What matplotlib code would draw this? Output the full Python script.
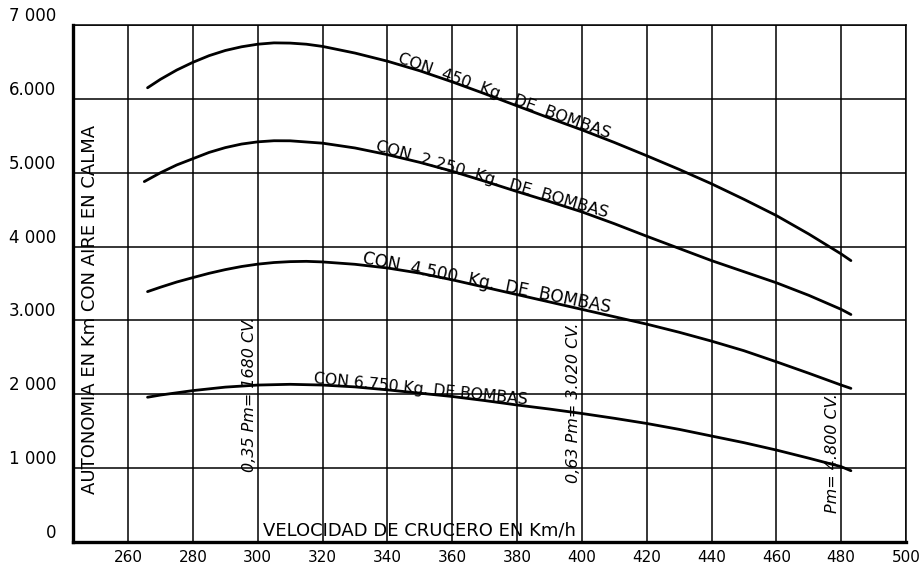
import matplotlib
matplotlib.use("Agg")
import numpy as np
import matplotlib.pyplot as plt
from matplotlib import font_manager, transforms

# ---------------- data ----------------
speed_450 = [266, 270, 275, 280, 285, 290, 295, 300, 305, 310, 315, 320, 330, 340, 350, 360, 370, 380,
             390, 400, 410, 420, 430, 440, 450, 460, 470, 480, 483]
range_450 = [6150, 6265, 6390, 6495, 6585, 6655, 6705, 6740, 6758, 6755, 6740, 6710, 6620, 6510, 6380,
             6230, 6070, 5905, 5740, 5580, 5410, 5230, 5045, 4850, 4640, 4420, 4170, 3900, 3810]

speed_2250 = [265, 270, 275, 280, 285, 290, 295, 300, 305, 310, 320, 330, 340, 350, 360, 370, 380,
              390, 400, 410, 420, 430, 440, 450, 460, 470, 480, 483]
range_2250 = [4880, 5000, 5105, 5190, 5275, 5340, 5388, 5418, 5433, 5432, 5400, 5335, 5245, 5140, 5020,
              4885, 4745, 4610, 4470, 4310, 4140, 3975, 3810, 3660, 3510, 3340, 3150, 3080]

speed_4500 = [266, 270, 275, 280, 285, 290, 295, 300, 305, 310, 315, 320, 330, 340, 350, 360, 370, 380,
              390, 400, 410, 420, 430, 440, 450, 460, 470, 480, 483]
range_4500 = [3390, 3450, 3520, 3580, 3638, 3688, 3730, 3762, 3784, 3796, 3800, 3792, 3760, 3710, 3640,
              3550, 3450, 3350, 3250, 3150, 3050, 2950, 2840, 2720, 2590, 2440, 2285, 2125, 2080]

speed_6750 = [266, 270, 280, 290, 300, 310, 320, 330, 340, 350, 360, 370, 380,
              390, 400, 410, 420, 430, 440, 450, 460, 470, 480, 483]
range_6750 = [1960, 1990, 2050, 2097, 2125, 2135, 2125, 2100, 2060, 2015, 1970, 1915, 1855,
              1800, 1740, 1675, 1605, 1525, 1435, 1345, 1245, 1135, 1020, 965]

curve_labels = ["CON  450  Kg.  DE  BOMBAS", "CON  2.250  Kg.  DE  BOMBAS",
                "CON  4.500  Kg.  DE  BOMBAS", "CON 6.750 Kg. DE BOMBAS"]
label_start_speed = [343, 336, 332, 317]
label_font_size = [11.5, 11.6, 12.2, 11.3]

x_ticks = [260, 280, 300, 320, 340, 360, 380, 400, 420, 440, 460, 480, 500]
y_ticks = [0, 1000, 2000, 3000, 4000, 5000, 6000, 7000]
y_tick_labels = ["0", "1 000", "2 000", "3.000", "4 000", "5.000", "6.000", "7 000"]

power_marks = [300, 400, 480]
power_labels = ["0,35 Pm= 1680 CV.", "0,63 Pm= 3.020 CV.", "Pm= 4.800 CV."]
power_label_bottom = [948, 799, 393]

x_label = "VELOCIDAD DE CRUCERO EN Km/h"
y_label = "AUTONOMIA EN Km CON AIRE EN CALMA"

# ---------------- fonts ----------------
available = {f.name for f in font_manager.fontManager.ttflist}
if "Liberation Sans Narrow" in available:
    label_family = ["Liberation Sans Narrow", "DejaVu Sans"]
    label_size = 16.5
else:
    label_family = ["DejaVu Sans"]
    label_size = 13

# ---------------- figure ----------------
fig = plt.figure(figsize=(9.23, 5.68), dpi=100)
fig.patch.set_facecolor("white")
ax = fig.add_axes([73 / 923, 26 / 568, 833 / 923, 517 / 568])
ax.set_facecolor("white")

ax.set_xlim(243, 500)
ax.set_ylim(0, 7000)
ax.set_xticks(x_ticks)
ax.set_yticks(y_ticks)
ax.set_yticklabels(y_tick_labels)
ax.grid(True, color="black", linewidth=1.1)
ax.set_axisbelow(True)
ax.tick_params(axis="both", length=0, colors="black")
ax.tick_params(axis="x", labelsize=11, pad=6)
ax.tick_params(axis="y", labelsize=12, pad=12)
for lab in ax.get_yticklabels():
    lab.set_va("bottom")

for side in ("left", "bottom"):
    ax.spines[side].set_linewidth(2.4)
for side in ("top", "right"):
    ax.spines[side].set_linewidth(1.1)

series = [(speed_450, range_450), (speed_2250, range_2250),
          (speed_4500, range_4500), (speed_6750, range_6750)]
for xs, ys in series:
    ax.plot(xs, ys, color="black", linewidth=2.0, solid_capstyle="round",
            solid_joinstyle="round", zorder=3)

# curve labels lying along the curves
lifted = transforms.offset_copy(ax.transData, fig=fig, x=0, y=1.5, units="points")
for text, (xs, ys), lx, fs in zip(curve_labels, series, label_start_speed, label_font_size):
    ly = np.interp(lx, xs, ys)
    lx2 = lx + 66
    ly2 = np.interp(lx2, xs, ys)
    p1 = ax.transData.transform((lx, ly))
    p2 = ax.transData.transform((lx2, ly2))
    ang = np.degrees(np.arctan2(p2[1] - p1[1], p2[0] - p1[0]))
    ax.text(lx, ly, text, rotation=ang, rotation_mode="anchor", ha="left", va="baseline",
            fontsize=fs, color="black", zorder=4, transform=lifted)

# power annotations (vertical)
for px, py, txt in zip(power_marks, power_label_bottom, power_labels):
    ax.text(px - 1.3, py, txt, rotation=90, rotation_mode="anchor", ha="left",
            va="baseline", fontsize=11.5, style="italic", color="black", zorder=4)

ax.set_xlabel(x_label, family=label_family, fontsize=label_size)
ax.xaxis.set_label_coords(0.416, 0.040)
ax.set_ylabel(y_label, family=label_family, fontsize=label_size)
ax.yaxis.set_label_coords(0.031, 0.449)

fig.savefig("out.png", dpi=100, facecolor="white")
